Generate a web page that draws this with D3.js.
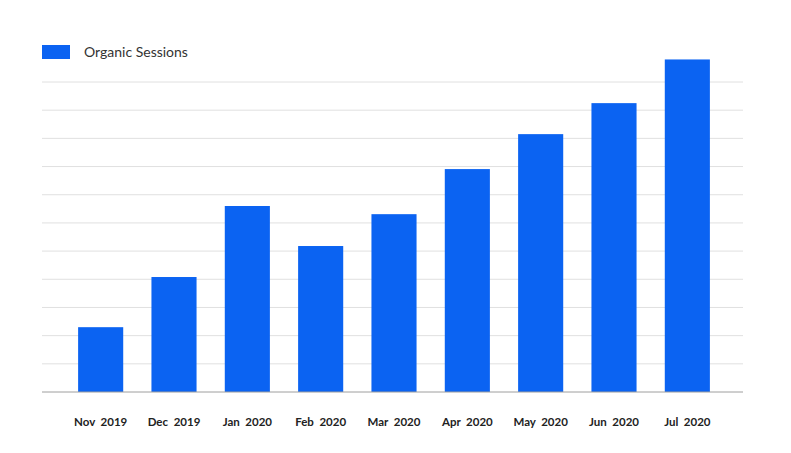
<!DOCTYPE html>
<html>
<head>
<meta charset="utf-8">
<script src="https://cdn.jsdelivr.net/npm/d3@7"></script>
<style>
body { margin: 0; background: #fff; }
text { font-family: Lato, "Open Sans", sans-serif; }
</style>
</head>
<body>
<svg id="chart" width="791" height="453"></svg>
<script>
// data (units = one gridline step)
var months = ["Nov  2019", "Dec  2019", "Jan  2020", "Feb  2020", "Mar  2020", "Apr  2020", "May  2020", "Jun  2020", "Jul  2020"];
var sessions = [2.3, 4.08, 6.6, 5.18, 6.31, 7.91, 9.15, 10.25, 11.8];
var gridTicks = d3.range(1, 12);

var svg = d3.select("#chart");

var x = d3.scaleBand().domain(months).range([64, 724])
    .paddingInner(0.385).paddingOuter(0.1925);
var y = d3.scaleLinear().domain([0, 11]).range([392, 82]);

// gridlines
svg.selectAll("line.grid").data(gridTicks).enter().append("line")
    .attr("class", "grid")
    .attr("x1", 42).attr("x2", 743)
    .attr("y1", function(d){ return y(d); })
    .attr("y2", function(d){ return y(d); })
    .attr("stroke", "#e0e0e0").attr("stroke-width", 1);

// bars
svg.selectAll("rect.bar").data(sessions).enter().append("rect")
    .attr("class", "bar")
    .attr("x", function(d, i){ return x(months[i]); })
    .attr("width", x.bandwidth())
    .attr("y", function(d){ return y(d); })
    .attr("height", function(d){ return y(0) - y(d); })
    .attr("fill", "#0b63f2");

// baseline
svg.append("line")
    .attr("x1", 42).attr("x2", 743)
    .attr("y1", y(0)).attr("y2", y(0))
    .attr("stroke", "#9e9e9e").attr("stroke-width", 1);

// x labels
var xAxis = svg.append("g").attr("transform", "translate(0," + y(0) + ")")
    .call(d3.axisBottom(x).tickSize(0).tickPadding(26));
xAxis.select(".domain").remove();
xAxis.selectAll("text")
    .style("font-size", "11.5px").style("font-weight", "bold")
    .attr("fill", "#222").style("white-space", "pre")
    .attr("xml:space", "preserve");

// legend
svg.append("rect").attr("x", 42).attr("y", 45).attr("width", 28).attr("height", 14)
    .attr("fill", "#0b63f2");
svg.append("text").attr("x", 84).attr("y", 57)
    .style("font-size", "14px").attr("fill", "#333")
    .text("Organic Sessions");
</script>
</body>
</html>
